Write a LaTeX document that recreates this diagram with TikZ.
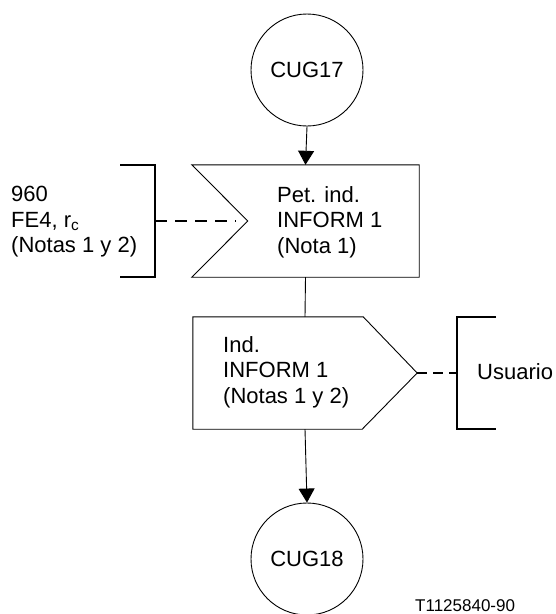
\documentclass[tikz,border=0pt]{standalone}
\usepackage{fontspec}
\setmainfont{Liberation Sans}
\usetikzlibrary{arrows.meta,calc}
\begin{document}
\begin{tikzpicture}[x=1pt,y=-1pt,
  thin line/.style={line width=0.9pt},
  bracket/.style={line width=2.8pt},
  dashlink/.style={line width=2.8pt,dash pattern=on 12pt off 8pt},
  flow/.style={thin line,-{Triangle[length=14pt,width=16pt]}},
  term/.style={circle,draw,thin line,minimum size=112pt,inner sep=0pt,font=\fontsize{22}{26}\selectfont},
  frame/.style={draw=none,inner sep=0pt},
  label/.style={inner sep=0pt,align=left,anchor=west,font=\fontsize{22}{25.5}\selectfont}]
\useasboundingbox (0,0) rectangle (556,614);

% terminals
\node[term] (cug17) at (307,70) {CUG17};
\node[term] (cug18) at (307,559) {CUG18};

% signal reception (notched left side)
\node[frame,minimum width=227pt,minimum height=112pt] (pet) at (305.5,221) {};
\draw[thin line] (pet.north west) -- (pet.north east) -- (pet.south east)
  -- (pet.south west) -- ($(pet.west)+(56,0)$) -- cycle;
\node[label] (pettext) at (277,222) {Pet. ind.\\INFORM 1\\(Nota 1)};

% signal emission (pointed right side)
\node[frame,minimum width=224pt,minimum height=112pt] (ind) at (305,373) {};
\draw[thin line] (ind.north west) -- ($(ind.north east)+(-54,0)$) -- (ind.east)
  -- ($(ind.south east)+(-55,0)$) -- (ind.south west) -- cycle;
\node[label] (indtext) at (223,372) {Ind.\\INFORM 1\\(Notas 1 y 2)};

% flow
\draw[flow] (cug17.south) -- (pet.north);
\draw[thin line] (pet.south) -- (ind.north);
\draw[flow] (ind.south) -- (cug18.north);

% left bracket with comment
\coordinate (lbtop) at (120,165);
\coordinate (lbbot) at (120,277);
\coordinate (lbmid) at (155,221);
\draw[bracket] (lbtop) -- (155,165) -- (155,277) -- (lbbot);
\coordinate (notch) at (236,221);
\draw[dashlink] (lbmid) -- (notch);
\node[label] (fe4) at (11,222) {960\\FE4, r\textsubscript{c}\\(Notas 1 y 2)};

% right bracket with comment
\coordinate (rbtop) at (496,317);
\coordinate (rbbot) at (496,429);
\coordinate (rbmid) at (457,373);
\draw[bracket] (rbtop) -- (457,317) -- (457,429) -- (rbbot);
\draw[dashlink,dash pattern=on 10pt off 6pt] (ind.east) -- (rbmid);
\node[label] (usuario) at (477,372) {Usuario};

% figure reference
\node[inner sep=0pt,anchor=base west,font=\fontsize{17}{20}\selectfont] (ref) at (415,611) {T1125840-90};
\end{tikzpicture}
\end{document}
